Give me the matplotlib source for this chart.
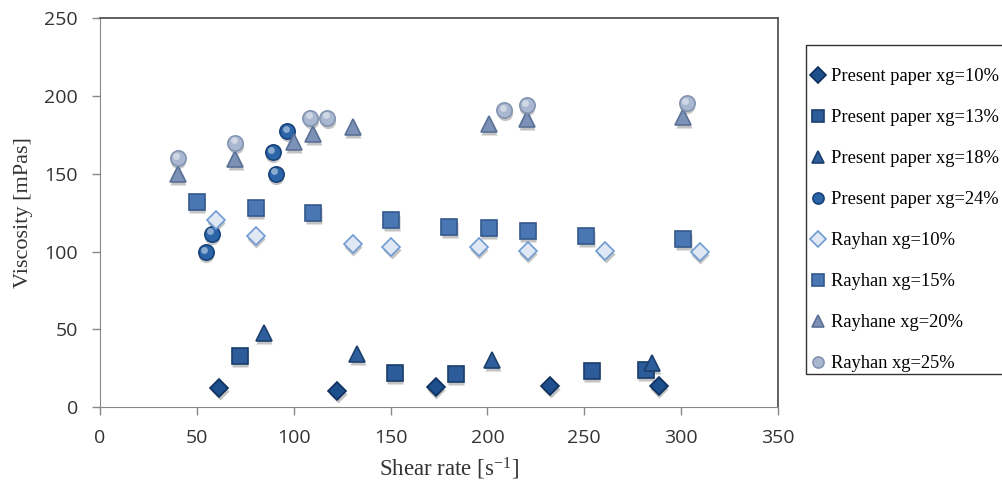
import matplotlib.pyplot as plt
import matplotlib.transforms as mtransforms
from matplotlib.patches import Rectangle

# viscosity measurements, x = shear rate [1/s], y = viscosity [mPas]
p10_x = [61.6, 122.4, 173.3, 232.3, 288.3]
p10_y = [12.2, 10.6, 12.8, 13.6, 13.6]
p13_x = [72.1, 152.1, 183.6, 253.8, 281.6]
p13_y = [33.0, 21.8, 21.1, 23.3, 23.9]
p18_x = [84.5, 132.8, 202.6, 285.0]
p18_y = [47.4, 34.0, 30.3, 28.2]
p24_x = [54.6, 57.6, 90.7, 89.1, 96.6]
p24_y = [99.7, 111.5, 150.0, 163.8, 177.3]

r10_x = [59.8, 80.5, 130.5, 150.4, 195.4, 220.7, 260.7, 309.5]
r10_y = [120.5, 110.2, 105.1, 103.0, 103.0, 100.2, 100.2, 99.8]
r15_x = [50.0, 80.4, 110.0, 150.4, 180.2, 200.6, 220.7, 251.0, 301.2]
r15_y = [131.8, 128.2, 124.7, 120.5, 115.8, 115.1, 113.0, 110.0, 107.9]
r20_x = [40.2, 69.8, 100.0, 110.0, 130.5, 200.6, 220.4, 301.2]
r20_y = [150.0, 159.6, 170.3, 175.6, 180.3, 182.0, 185.3, 186.3]
r25_x = [40.2, 69.8, 108.6, 117.3, 208.7, 220.4, 302.9]
r25_y = [160.0, 169.9, 185.9, 185.9, 190.6, 193.8, 195.3]

series = [
    (p10_x, p10_y, 'Present paper xg=10%', 'D', 9, '#1d4f8c', '#0f2f5c'),
    (p13_x, p13_y, 'Present paper xg=13%', 's', 11, '#2c5d9a', '#1a3d6a'),
    (p18_x, p18_y, 'Present paper xg=18%', '^', 11, '#2e5f9c', '#1c406e'),
    (p24_x, p24_y, 'Present paper xg=24%', 'o', 11, '#2b65a8', '#17437a'),
    (r10_x, r10_y, 'Rayhan xg=10%', 'D', 9, '#dfe8f4', '#6f9bd2'),
    (r15_x, r15_y, 'Rayhan xg=15%', 's', 11, '#4a77b4', '#34598c'),
    (r20_x, r20_y, 'Rayhane xg=20%', '^', 11, '#7b91b6', '#5b7096'),
    (r25_x, r25_y, 'Rayhan xg=25%', 'o', 11, '#a9b8d0', '#8394b2'),
]

W, H = 1003, 486
fig = plt.figure(figsize=(W / 100, H / 100), dpi=100)
ax = fig.add_axes([0.0997, 0.162, 0.676, 0.801])

shadow = mtransforms.offset_copy(ax.transData, fig=fig, x=0.5, y=-3, units='dots')
handles = []
for xs, ys, label, mk, ms, face, edge in series:
    # soft drop shadow under each marker
    ax.plot(xs, ys, mk, ms=ms, color='#555555', alpha=0.35, mec='none',
            transform=shadow, zorder=2)
    h, = ax.plot(xs, ys, mk, ms=ms, mfc=face, mec=edge, mew=1.2,
                 label=label, zorder=3)
    if mk == 'o':
        # highlight to give the spheres some depth
        hl = mtransforms.offset_copy(ax.transData, fig=fig, x=-1.5, y=2.5, units='dots')
        ax.plot(xs, ys, 'o', ms=ms * 0.45, color='white', alpha=0.45,
                mec='none', transform=hl, zorder=4)
    handles.append(h)

ax.set_xlim(0, 350)
ax.set_ylim(0, 250)
ax.set_xticks(range(0, 351, 50))
ax.set_yticks(range(0, 251, 50))
ax.tick_params(axis='both', labelsize=14, labelcolor='#333333', length=6,
               width=1, direction='out', color='#888888')
ax.tick_params(axis='y', pad=10)
ax.tick_params(axis='x', pad=10)
for lab in ax.get_xticklabels() + ax.get_yticklabels():
    lab.set_family('Open Sans')

for side in ['left', 'bottom']:
    ax.spines[side].set_color('#888888')
for side in ['top', 'right']:
    ax.spines[side].set_color('#555555')
    ax.spines[side].set_linewidth(1.3)

ax.set_xlabel('Shear rate [s$\\mathregular{^{-1}}$]', family='Liberation Serif',
              fontsize=16.5, color='#333333')
ax.xaxis.set_label_coords(0.514, -0.125)
ax.set_ylabel('Viscosity [mPas]', family='Liberation Serif', fontsize=16,
              color='#333333', labelpad=8)

# legend box runs off the right edge of the figure
fig.patches.append(Rectangle((806 / W, 1 - 374 / H), 0.3, (374 - 45) / H,
                             transform=fig.transFigure, fill=False,
                             edgecolor='#333333', linewidth=1.0))
leg = fig.legend(handles=handles, loc='upper left',
                 bbox_to_anchor=(811 / W, 1 - 68 / H),
                 bbox_transform=fig.transFigure,
                 prop={'family': 'Liberation Serif', 'size': 13.3},
                 frameon=False, labelspacing=1.3, handletextpad=0.3,
                 handlelength=0.8, borderpad=0, borderaxespad=0)
for lh in leg.legend_handles:
    lh.set_markersize(8)

fig.savefig('out.png', dpi=100)
